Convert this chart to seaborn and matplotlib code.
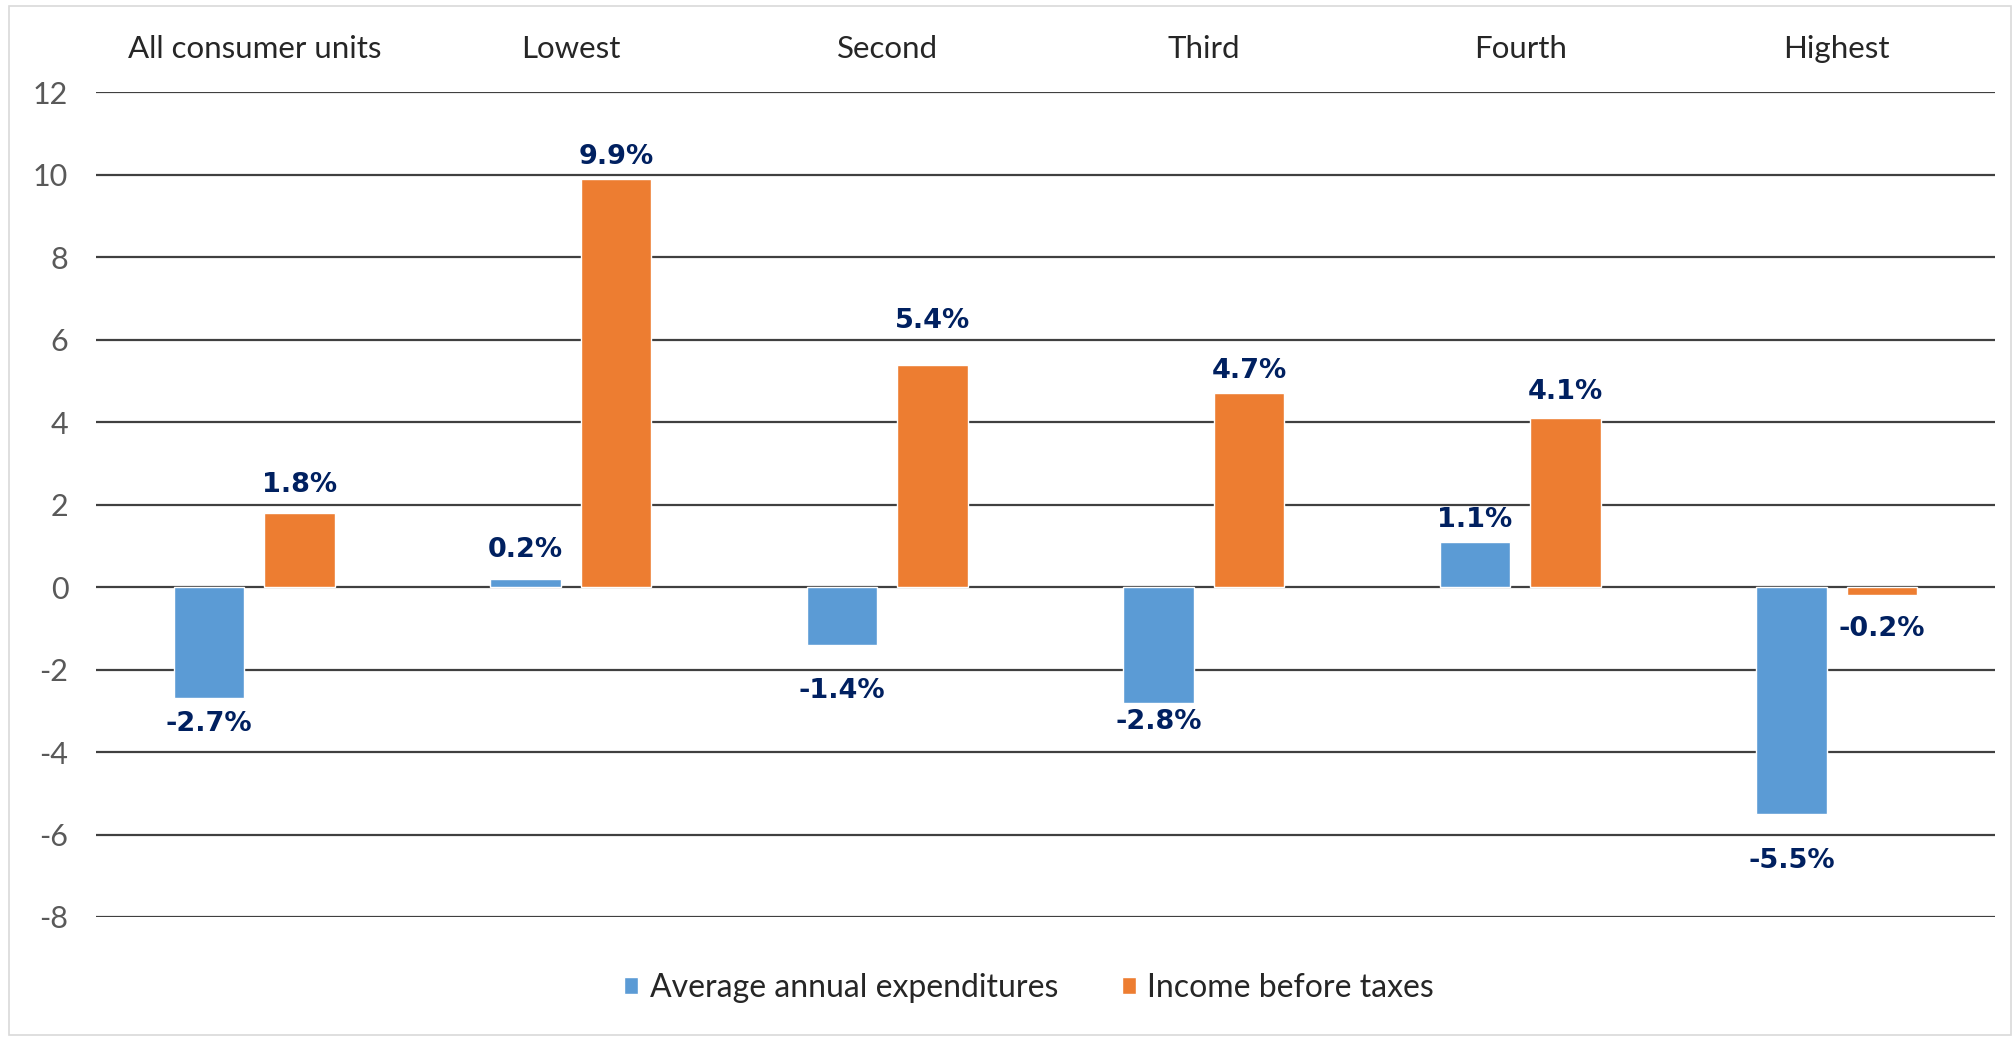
import pandas as pd
import matplotlib.pyplot as plt
import seaborn as sns
from matplotlib.patches import Rectangle

# Data
groups = ['All consumer units', 'Lowest', 'Second', 'Third', 'Fourth', 'Highest']
series = ['Average annual expenditures', 'Income before taxes']
expenditures = [-2.7, 0.2, -1.4, -2.8, 1.1, -5.5]
income = [1.8, 9.9, 5.4, 4.7, 4.1, -0.2]
y_ticks = [-8, -6, -4, -2, 0, 2, 4, 6, 8, 10, 12]

# distance (pt) of each value label from its bar end, as placed in the original
exp_label_gap = [18.5, 21, 33, 14, 16, 34]
inc_label_gap = [20, 16, 31.5, 16, 18.5, 24]

colors = ['#5B9BD5', '#ED7D31']
label_color = '#002060'

df = pd.DataFrame({
    'group': groups * 2,
    'series': [series[0]] * len(groups) + [series[1]] * len(groups),
    'value': expenditures + income,
})

sns.set_style('white')
plt.rcParams['font.family'] = ['Lato', 'DejaVu Sans']
plt.rcParams['axes.unicode_minus'] = False

fig = plt.figure(figsize=(20.14, 10.38), dpi=100)
ax = fig.add_axes([0.0477, 0.1166, 0.9429, 0.7943])

sns.barplot(data=df, x='group', y='value', hue='series', order=groups,
            hue_order=series, palette=colors, width=0.572, gap=0.22,
            saturation=1, ax=ax)

ax.set_ylim(-8, 12)
ax.set_yticks(y_ticks)
ax.set_xlim(-0.5, len(groups) - 0.5)
ax.grid(axis='y', color='#404040', linewidth=1.6)
ax.set_axisbelow(True)
for s in ax.spines.values():
    s.set_visible(False)

ax.xaxis.tick_top()
ax.tick_params(axis='x', length=0, pad=21, labelsize=22.5, labelcolor='#262626')
ax.tick_params(axis='y', length=0, pad=20, labelsize=22, labelcolor='#595959')
ax.set_xlabel('')
ax.set_ylabel('')

# value labels
for cont, vals, gaps in zip(ax.containers, [expenditures, income],
                            [exp_label_gap, inc_label_gap]):
    for bar, v, g in zip(cont, vals, gaps):
        x = bar.get_x() + bar.get_width() / 2
        sign = 1 if v >= 0 else -1
        ax.annotate(f'{v:.1f}%', xy=(x, v), xytext=(0, sign * g),
                    textcoords='offset points', ha='center', va='center',
                    fontsize=19.5, fontweight='bold', color=label_color,
                    family='DejaVu Sans')

handles, labels = ax.get_legend_handles_labels()
ax.get_legend().remove()
fig.legend(handles, labels, loc='center', bbox_to_anchor=(0.511, 0.048),
           ncol=2, frameon=False, fontsize=23, handlelength=0.45,
           handleheight=0.45, handletextpad=0.35, columnspacing=2.0,
           labelcolor='#262626')

# outer chart border
fig.patches.append(Rectangle((0.0045, 0.003), 0.994, 0.991, transform=fig.transFigure,
                             fill=False, edgecolor='#D9D9D9', linewidth=1.2))

fig.savefig('out.png', dpi=100)
